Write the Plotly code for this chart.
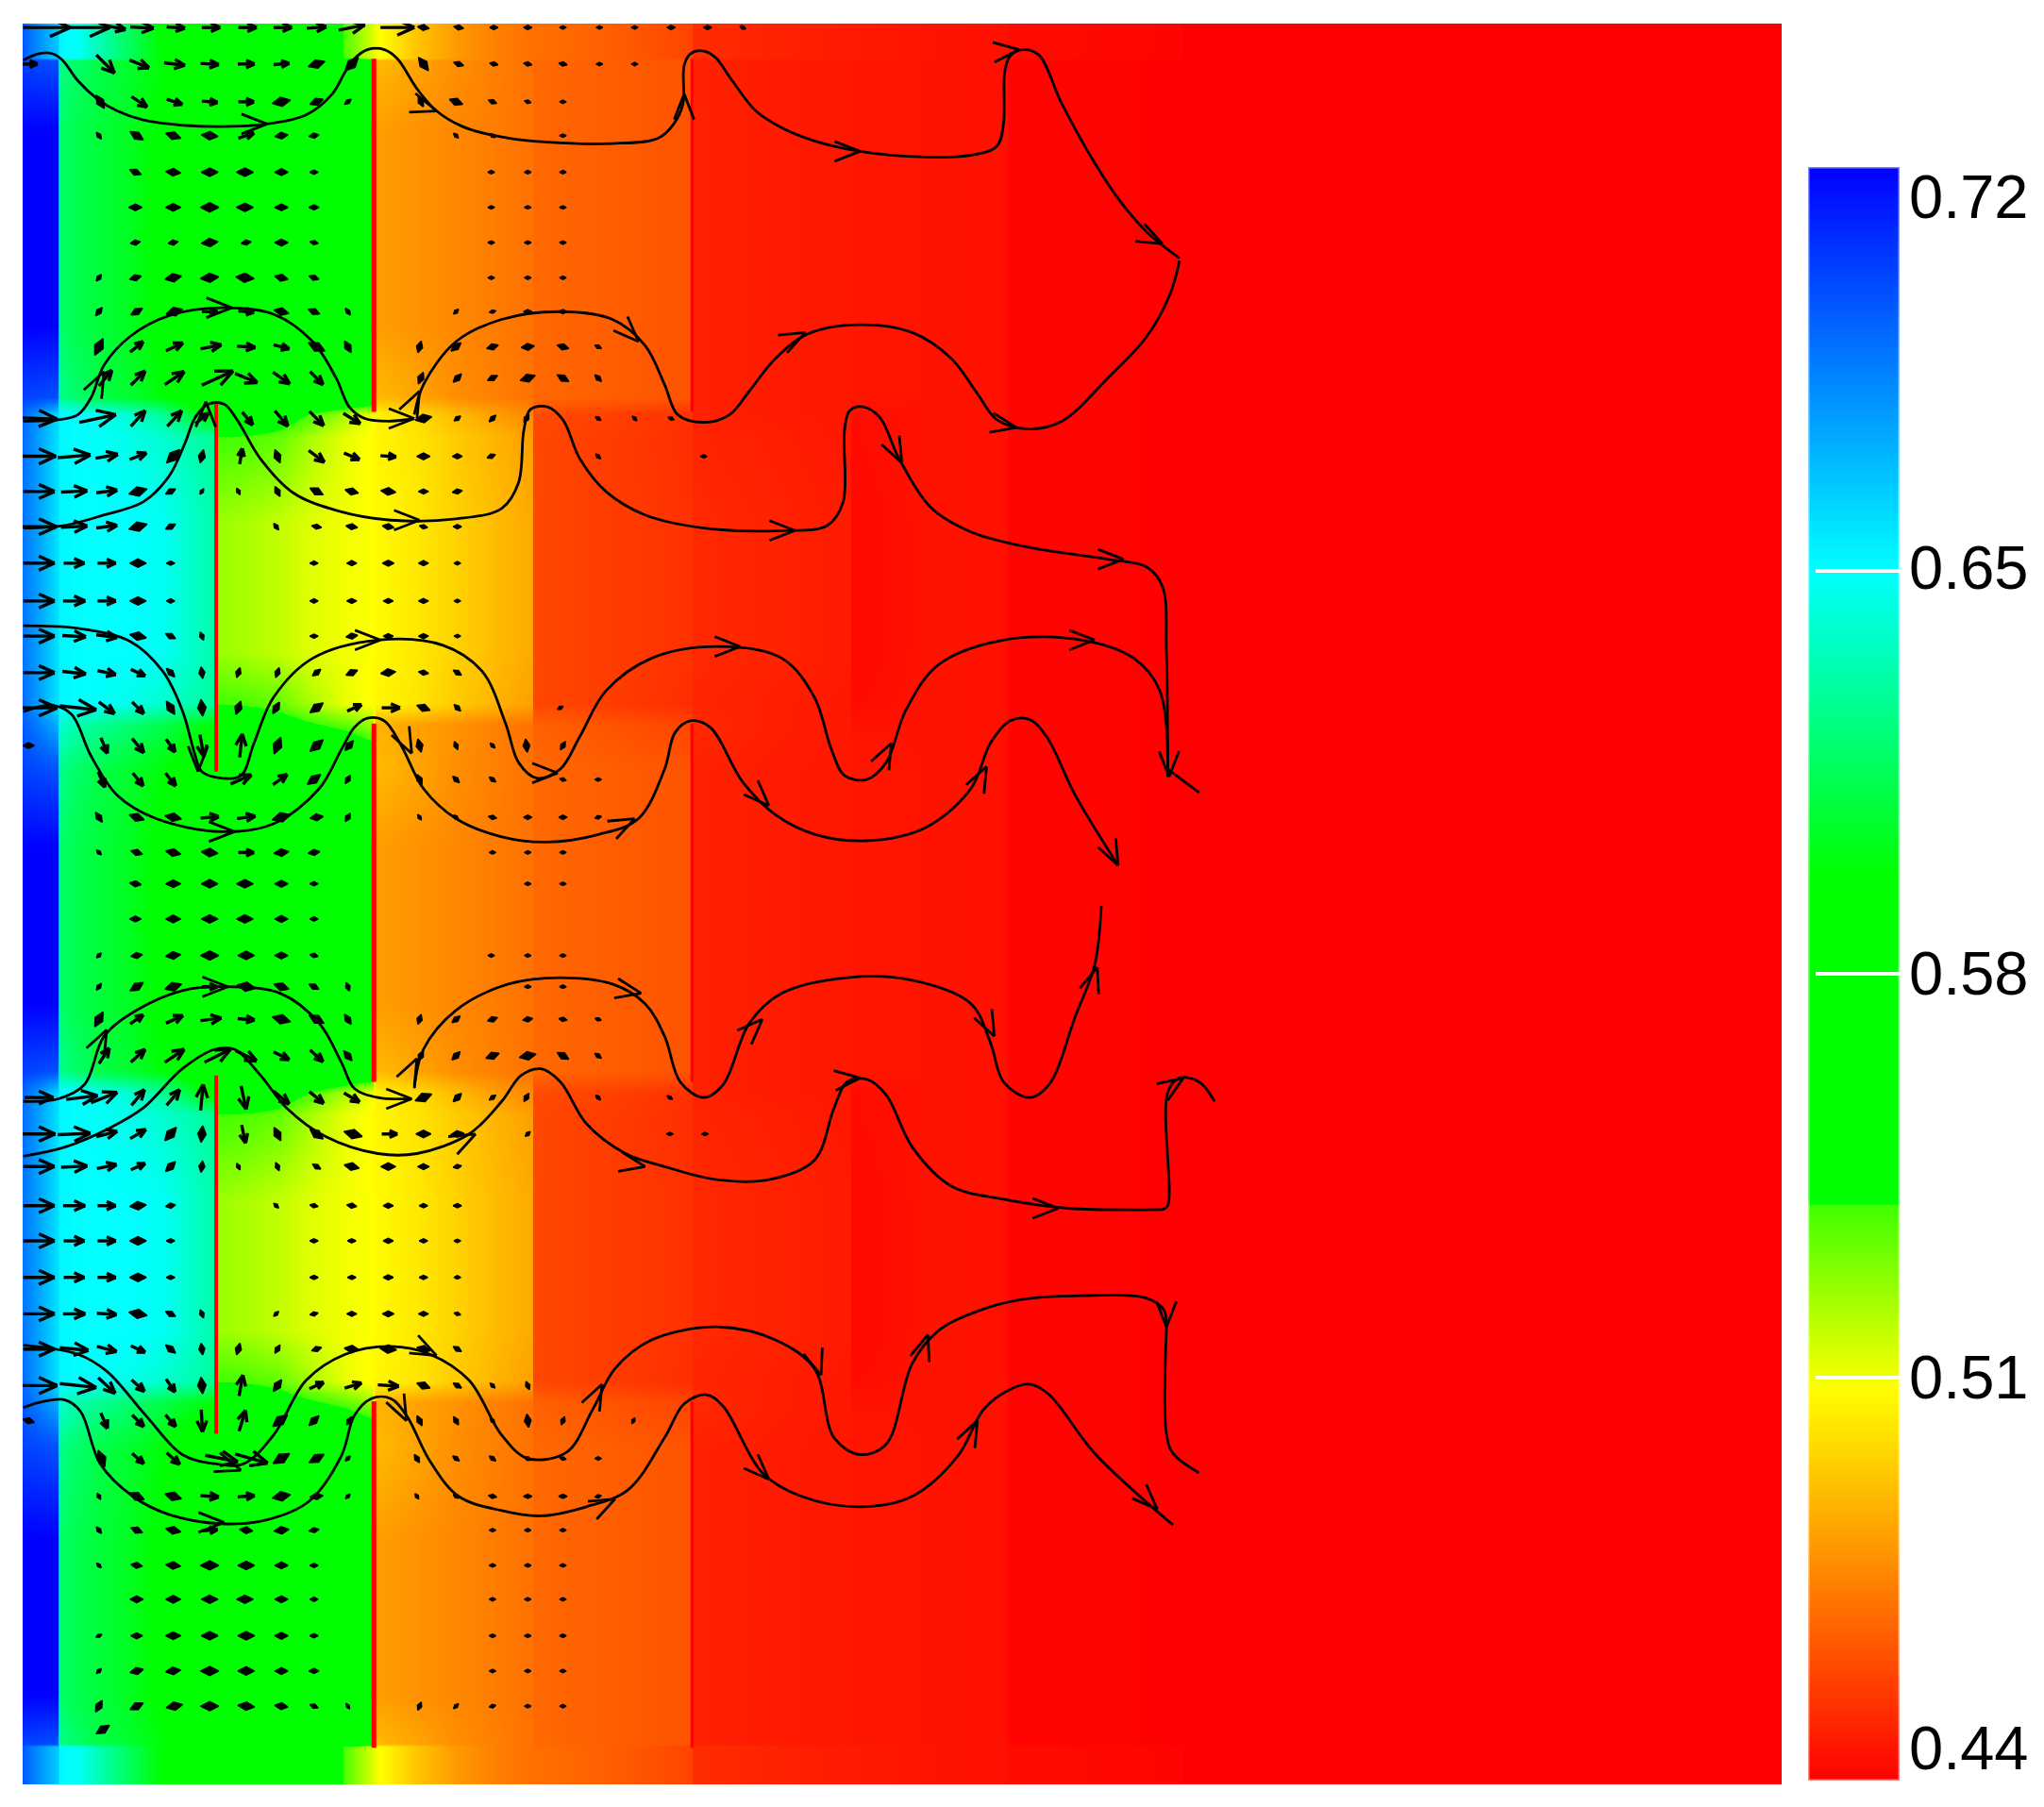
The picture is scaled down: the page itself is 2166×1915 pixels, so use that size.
#! /usr/bin/env python3

import math
import plotly.graph_objects as go

W = 2166
H = 1915
# the page body keeps its default margin, all pixel positions below are for the whole window
BODY = 8
FIG_W = W - 2*BODY
FIG_H = H - 2*BODY

# colorbar range and the colours
ZMIN = 0.44
ZMAX = 0.72
COLOR_STOPS = [(0.44, 'rgb(255,0,0)'), (0.508, 'rgb(255,255,0)'), (0.5399, 'rgb(64,255,0)'),
               (0.54, 'rgb(0,255,0)'), (0.5965, 'rgb(0,255,0)'), (0.65, 'rgb(0,255,255)'),
               (0.72, 'rgb(0,0,255)')]
BAR_LABELS = ['0.72', '0.65', '0.58', '0.51', '0.44']
BAR_LABEL_PX = [208, 601, 1031, 1459, 1852]
BAR_TICKS = [0.65, 0.58, 0.51]

# field values, one profile per kind of band across these columns
X_COLS = [17.5, 30, 44.5, 45.5, 60, 75, 100,
          125, 145, 165.5, 167, 190, 215, 240,
          265, 286, 288, 320, 350, 380, 408.5,
          409.5, 470, 530.5, 531.5, 600, 652.5, 653.5,
          720, 772.5, 773.5, 850, 907.5, 908.5, 1367]
TAIL = [.445, .444, .441, .441, .440, .440, .440]
P_TOP = [.695, .680, .665, .652, .648, .635, .615,
         .595, .580, .580, .580, .580, .580, .580,
         .537, .514, .510, .492, .481, .474, .470,
         .470, .465, .458, .452, .449, .447, .447,
         .445, .444, .443, .442, .441, .440, .440]
P_A = [.720, .720, .720, .618, .612, .609, .603,
       .594, .585, .580, .580, .580, .580, .580,
       .580, .580, .482, .479, .476, .473, .470,
       .468, .465, .462, .449, .447, .446, .446] + TAIL
P_A_EDGE = [.702, .700, .698, .625, .618, .612, .606,
            .598, .588, .582, .580, .580, .580, .580,
            .575, .565, .490, .484, .478, .474, .470,
            .468, .465, .462, .449, .447, .446, .446] + TAIL
P_GAP = [.692, .678, .660, .652, .650, .648, .640,
         .628, .610, .590, .588, .570, .552, .538,
         .522, .510, .505, .498, .490, .482, .476,
         .460, .457, .453, .449, .447, .446, .443] + TAIL
P_B_EDGE = [.690, .676, .658, .652, .650, .649, .645,
            .640, .634, .628, .540, .538, .534, .522,
            .512, .507, .506, .501, .494, .488, .482,
            .459, .456, .452, .450, .448, .446, .443] + TAIL
P_B = [.688, .675, .658, .652, .650, .650, .650,
       .648, .640, .632, .525, .522, .518, .513,
       .510, .508, .507, .502, .496, .490, .485,
       .459, .456, .453, .451, .449, .447, .442] + TAIL
P_MIX = [.695, .685, .672, .640, .632, .628, .620,
         .612, .604, .598, .570, .560, .550, .542,
         .535, .525, .488, .483, .479, .474, .470,
         .466, .462, .458, .451, .448, .446, .445] + TAIL

ROW_Y = [18, 44, 46, 100, 250, 305, 318, 335, 400, 500, 540, 556, 590, 650, 770, 822,
         838, 855, 920, 1020, 1060, 1076, 1110, 1180, 1300, 1338, 1340, 1369]
ROW_Z = [P_TOP, P_TOP, P_A_EDGE, P_A, P_A, P_A_EDGE, P_GAP, P_B_EDGE, P_B, P_B, P_B_EDGE, P_MIX,
         P_A_EDGE, P_A, P_A, P_A_EDGE, P_GAP, P_B_EDGE, P_B, P_B, P_B_EDGE, P_MIX,
         P_A_EDGE, P_A, P_A, P_A_EDGE, P_TOP, P_TOP]

# baffles
BAFFLE_X = [287, 531, 166, 287, 531, 166, 287, 531]
BAFFLE_Y0 = [45, 45, 310, 555, 555, 825, 1075, 1075]
BAFFLE_Y1 = [316, 316, 592, 830, 830, 1100, 1341, 1341]
BAFFLE_W = [5, 3, 4, 5, 3, 4, 5, 3]

# velocity arrows: (y, [(x, u, v), ...]), v is positive going down the picture
ARROW_ROWS = [
  (21, [(36,36,0),(69,31,0),(89,15,3),(109,18,1),(135,14,1),(162,14,0),(190,14,0),(217,14,0),
        (243,15,-1),(270,20,-4),(305,26,0),(325,7,1),(352,6,1),(379,5,0),(405,5,0),(432,4,0),
        (460,4,0),(487,4,0),(515,5,0),(543,5,0),(570,2,1)]),
  (49, [(23,12,0),(81,14,14),(107,15,6),(134,16,2),(161,14,1),(189,13,0),(216,12,-1),(243,10,-3),
        (270,8,-8),(325,6,8),(352,6,2),(379,5,1),(405,5,1),(432,5,1),(460,4,0),(487,3,0)]),
  (78, [(77,5,8),(107,12,8),(134,12,4),(161,12,1),(189,12,0),(216,11,-2),(243,8,-3),(267,4,-3),
        (323,3,6),(350,8,3),(378,5,2),(405,4,1),(432,4,0)]),
  (104, [(76,3,4),(105,8,5),(133,9,3),(161,10,1),(189,12,-4),(216,8,-1),(241,6,-1),
         (350,3,3),(378,3,2),(432,3,0)]),
  (132, [(104,7,3),(133,9,1),(161,10,0),(188,10,0),(216,8,0),(241,5,0),(377,3,0),(405,3,0),(432,3,0)]),
  (159, [(104,8,0),(133,9,0),(161,11,0),(188,10,0),(216,8,0),(241,6,0),(377,3,0),(405,3,0),(432,3,0)]),
  (186, [(104,6,-1),(133,6,-1),(161,10,-1),(189,6,-1),(216,8,0),(241,5,1),(377,3,0),(405,3,0),(432,3,0)]),
  (213, [(76,3,-4),(104,7,-2),(133,10,-2),(161,11,-1),(188,11,1),(216,8,2),(241,6,2),
         (377,3,0),(405,3,0),(432,3,0)]),
  (239, [(76,4,-5),(105,7,-4),(134,10,-3),(161,12,0),(189,12,1),(216,9,2),(241,7,3),(267,3,4),
         (350,3,-3),(378,4,-1),(405,5,0),(432,5,0)]),
  (266, [(76,5,-10),(105,10,-8),(134,13,-6),(162,16,-3),(189,14,1),(216,12,3),(243,10,5),(267,4,7),
         (322,2,-7),(350,6,-5),(378,7,-2),(405,8,-1),(432,7,2),(459,4,2)]),
  (290, [(81,10,-12),(106,11,-11),(134,15,-10),(167,24,-11),(189,17,7),(216,13,9),(243,10,10),
         (323,3,-7),(351,5,-5),(378,6,-3),(405,9,-3),(432,7,4),(459,4,4)]),
  (321, [(30,28,1),(75,28,-6),(106,11,-12),(134,11,-12),(155,10,-8),(190,8,10),(216,10,12),(243,11,11),
         (270,13,8),(325,10,-2),(351,4,-3),(378,4,-4),(404,3,-5),(459,3,2),(487,2,2),(515,2,1)]),
  (350, [(30,26,0),(57,25,-2),(82,17,-3),(106,13,-5),(133,8,-8),(155,2,-8),(185,2,-12),(213,3,8),
         (243,12,9),(270,12,5),(298,12,1),(325,8,0),(351,6,0),(377,5,-2),(459,3,3),(540,2,0)]),
  (377, [(30,24,0),(57,20,-1),(82,16,-2),(106,11,-3),(131,6,-3),(155,2,-3),(183,2,4),(213,3,6),
         (243,8,4),(270,8,2),(298,9,1),(325,6,0),(351,6,-1)]),
  (404, [(30,27,0),(57,20,-1),(82,16,-2),(106,11,-3),(131,6,-3),(212,3,4),(243,6,1),(270,7,1),
         (298,7,1),(325,5,1),(351,5,0)]),
  (432, [(30,24,0),(57,16,0),(82,14,0),(106,10,0),(131,5,0),(241,5,0),(270,6,0),(298,7,0),(325,6,0),(351,4,0)]),
  (461, [(30,24,0),(57,17,0),(82,14,0),(106,10,0),(131,5,0),(241,5,0),(270,6,0),(298,6,0),(325,6,0),(351,4,0)]),
  (488, [(30,24,0),(57,18,1),(82,16,2),(106,10,2),(131,6,3),(155,2,5),(241,5,0),(270,7,-1),(298,6,0),
         (325,6,0),(351,4,0)]),
  (516, [(30,24,0),(57,18,2),(82,14,3),(106,11,5),(131,5,5),(155,1,7),(183,2,-6),(213,2,-6),(243,5,-4),
         (270,7,-3),(298,9,-1),(325,6,1),(351,5,3)]),
  (543, [(30,28,0),(60,28,3),(82,12,9),(106,9,9),(131,5,8),(155,1,10),(183,3,-8),(212,4,-7),(243,8,-6),
         (272,11,-5),(300,14,0),(325,8,3),(351,4,4),(430,2,-1)]),
  (572, [(22,7,0),(80,5,12),(106,9,11),(131,7,10),(155,3,17),(185,2,-18),(213,4,-10),(243,8,-7),(268,5,-6),
         (322,2,8),(350,2,5),(378,3,3),(404,1,8),(432,3,-5)]),
  (598, [(78,5,12),(106,8,10),(131,8,10),(185,16,-7),(215,11,-8),(241,8,-6),(267,3,-5),(322,3,6),
         (350,4,4),(378,4,3),(432,4,1),(459,3,0)]),
  (627, [(76,4,6),(105,9,3),(133,10,2),(161,14,-1),(189,14,-2),(216,11,-3),(243,8,-1),(267,3,-5),
         (322,2,3),(350,2,2),(378,5,1),(405,5,0),(432,5,0),(459,4,-1)]),
  (654, [(76,3,3),(105,7,2),(133,9,2),(161,10,1),(189,12,0),(216,9,-1),(241,7,-1),(378,4,0),(405,3,0),(432,3,0)]),
  (678, [(104,7,1),(133,9,0),(161,10,0),(188,10,0),(216,8,0),(241,5,0),(405,3,0),(432,3,0)]),
  (705, [(104,7,0),(133,9,0),(161,10,0),(188,10,0),(216,8,0),(241,5,0)]),
  (733, [(76,2,-2),(105,7,-1),(133,9,-1),(161,11,0),(189,10,0),(216,8,0),(241,5,1),(377,3,0),(405,3,0),(432,3,0)]),
  (757, [(76,3,-4),(105,8,-5),(133,10,-3),(161,12,0),(189,11,2),(216,9,3),(241,6,3),(267,2,5),(405,3,0),(432,3,0)]),
  (782, [(76,5,-9),(105,10,-7),(134,13,-6),(162,16,-2),(189,13,1),(216,11,3),(243,9,5),(267,4,6),
         (322,2,-6),(350,5,-4),(378,6,-2),(405,6,-1),(432,5,1),(459,3,1)]),
  (810, [(80,8,-12),(106,11,-10),(134,15,-10),(167,20,-10),(189,16,8),(216,12,6),(243,10,9),(267,5,6),
         (323,3,-6),(350,5,-5),(378,8,-3),(405,10,-2),(432,7,4),(459,4,3)]),
  (842, [(30,22,0),(63,24,-3),(80,20,-8),(106,10,-12),(133,10,-12),(155,2,-20),(187,4,18),(216,12,10),
         (243,11,9),(270,12,7),(325,10,-4),(351,5,-5),(378,4,-3),(404,3,-5),(459,3,3),(514,3,2)]),
  (870, [(30,25,0),(57,25,-1),(82,16,-4),(106,12,-7),(131,7,-8),(155,1,-10),(187,3,14),(213,4,8),(243,8,6),
         (271,11,3),(299,12,0),(325,9,0),(351,8,-1),(405,3,-3),(514,2,0),(541,2,0)]),
  (895, [(30,24,0),(57,20,-1),(82,15,-3),(106,11,-5),(131,6,-6),(155,1,-7),(183,2,4),(213,2,5),(243,5,3),
         (270,9,2),(298,9,0),(325,7,0),(351,5,-1)]),
  (925, [(30,24,0),(57,17,0),(82,14,0),(106,10,-1),(131,6,-1),(212,3,3),(241,5,1),(270,6,1),(298,6,0),(325,5,0),(351,5,0)]),
  (952, [(30,24,0),(57,16,0),(82,14,0),(106,10,0),(131,5,0),(241,5,0),(270,5,0),(298,6,0),(325,5,0),(351,4,0)]),
  (980, [(30,24,0),(57,16,0),(82,14,0),(106,10,0),(131,5,0),(241,5,0),(270,5,0),(298,6,0),(325,5,0),(351,4,0)]),
  (1008, [(30,24,0),(57,17,0),(82,15,1),(106,11,2),(131,6,3),(155,2,5),(212,3,-3),(241,5,-1),(270,6,0),
          (298,7,0),(325,6,0),(351,4,1)]),
  (1035, [(30,24,0),(57,22,2),(82,15,4),(106,11,5),(131,6,5),(155,1,7),(183,2,-7),(213,3,-5),(243,6,-2),
          (270,9,1),(298,10,1),(325,8,2),(351,5,3)]),
  (1063, [(30,28,0),(60,28,3),(82,13,12),(106,10,9),(131,7,10),(155,1,10),(185,3,-16),(213,5,-7),(243,11,-5),
          (271,13,-4),(298,16,1),(325,8,3),(351,5,3),(378,3,3),(405,2,5)]),
  (1090, [(22,7,2),(80,5,12),(106,9,9),(131,8,9),(155,1,17),(186,5,-16),(215,9,-7),(241,6,-6),(268,3,-5),
          (322,3,6),(350,3,5),(378,3,3),(405,1,8),(432,2,-5),(486,1,-2)]),
  (1119, [(78,4,10),(106,9,8),(133,10,9),(170,25,5),(193,25,7),(216,10,-6),(243,9,-5),(267,3,-3),
          (320,3,5),(350,4,3),(378,4,3),(405,4,2),(432,4,1),(459,3,0)]),
  (1148, [(76,2,4),(105,9,4),(133,10,3),(161,14,1),(189,13,-1),(216,11,-2),(243,8,-1),(267,2,-2),
          (320,2,3),(350,3,2),(378,5,1),(405,5,0),(432,5,0),(459,4,-1)]),
  (1174, [(76,3,4),(105,7,3),(133,9,2),(161,12,-1),(189,8,1),(216,9,-1),(241,6,-1),(378,4,0),(405,3,0),(432,3,0)]),
  (1201, [(76,2,2),(105,7,1),(133,9,1),(161,11,0),(189,10,0),(216,8,0),(241,5,0),(378,3,0),(405,3,0),(432,3,0)]),
  (1227, [(105,8,0),(133,9,0),(161,10,0),(188,10,0),(216,8,0),(241,5,0),(378,3,0),(405,3,0),(432,3,0)]),
  (1255, [(76,2,-1),(105,7,0),(133,9,0),(161,10,0),(189,10,0),(216,8,0),(241,5,0),(378,3,0),(405,3,0),(432,3,0)]),
  (1282, [(76,3,-3),(105,8,-2),(133,9,-1),(161,11,0),(189,10,0),(216,8,0),(241,6,0),(378,3,0),(405,3,0),(432,3,0)]),
  (1309, [(76,4,-7),(105,8,-4),(134,10,-2),(161,11,0),(189,10,1),(216,8,1),(241,5,2),(267,2,3),
          (322,2,-5),(350,3,-3),(378,4,-1),(405,3,0),(432,3,0)]),
  (1327, [(79,8,-5)]),
]

# streamlines
STREAMS = [
  [(18,46),(30,41),(40,41),(48,46),(60,62),(75,76),(90,85),(110,92),(140,96),(170,97),(205,95),(235,88),
   (255,72),(265,55),(272,45),(282,38),(295,38),(305,45),(320,68),(335,85),(355,97),(385,105),(420,109),
   (470,110),(505,106),(517,95),(524,80),(525,50),(530,41),(540,39),(549,44),(562,62),(580,85),(600,98),
   (625,108),(660,116),(700,120),(745,119),(765,112),(770,95),(771,55),(775,43),(785,38),(797,42),(815,80),
   (840,125),(860,155),(880,178),(905,198)],
  [(18,323),(45,322),(60,318),(70,305),(80,280),(100,258),(130,242),(170,236),(210,241),(240,262),(258,290),
   (268,312),(280,321),(300,323),(318,321)],
  [(318,318),(325,295),(350,262),(385,245),(430,239),(470,245),(495,265),(510,295),(520,318),(540,324),
   (560,318),(575,300),(595,275),(620,256),(660,249),(700,255),(730,275),(750,302),(765,322),(790,329),
   (815,323),(850,290),(880,258),(898,225),(905,200)],
  [(18,405),(50,403),(80,395),(110,385),(130,365),(142,340),(150,320),(160,310),(172,310),(182,322),(200,352),
   (225,378),(260,392),(300,399),(350,398),(385,390),(398,370),(402,330),(407,314),(420,312),(432,322),
   (445,352),(465,377),(495,395),(540,405),(600,407),(635,403),(647,385),(648,330),(652,315),(662,312),
   (675,320),(690,352),(715,390),(745,408),(790,420),(850,429),(880,435),(892,450),(895,500),(896,590)],
  [(896,590),(920,608)],
  [(18,480),(60,482),(100,492),(125,515),(140,545),(150,580),(155,592),(170,597),(185,595),(195,570),(210,535),
   (240,505),(290,491),(340,495),(370,515),(388,555),(398,585),(412,597),(430,590),(445,565),(465,530),
   (500,505),(550,496),(600,505),(625,535),(638,575),(648,595),(665,598),(680,585),(695,545),(720,510),
   (770,491),(830,491),(870,505),(890,530),(896,596)],
  [(18,546),(40,541),(55,548),(70,580),(90,610),(120,628),(170,638),(210,632),(245,605),(262,575),(272,558),
   (282,551),(295,553),(308,572),(325,605),(350,628),(385,642),(420,646),(460,640),(490,628),(510,590),
   (518,562),(530,553),(545,558),(570,600),(595,625),(625,640),(665,645),(710,635),(745,605),(760,570),
   (775,553),(790,552),(803,565),(825,610),(858,664)],
  [(18,845),(45,843),(65,832),(80,795),(105,775),(140,760),(170,757),(215,762),(245,785),(262,815),(272,835),
   (290,842),(316,843)],
  [(318,835),(325,805),(350,775),(390,755),(430,750),(470,755),(495,770),(510,795),(522,830),(540,842),
   (555,832),(575,785),(600,762),(650,750),(700,752),(745,770),(760,800),(770,830),(790,842),(805,832),
   (825,780),(840,740),(845,695)],
  [(18,887),(50,880),(85,865),(110,850),(140,820),(165,805),(180,805),(200,825),(220,850),(250,872),(290,885),
   (320,885),(360,870),(385,845),(400,825),(415,820),(430,830),(450,862),(480,885),(510,895),(550,905),
   (590,905),(625,890),(640,850),(650,830),(665,828),(680,840),(700,880),(730,910),(770,920),(820,927),
   (892,928)],
  [(892,928),(896,925),(896,838),(905,827),(920,830),(932,845)],
  [(18,1032),(60,1039),(82,1052),(112,1086),(140,1116),(165,1123),(187,1123),(210,1101),(235,1059),(265,1039),
   (300,1033),(330,1039),(360,1059),(385,1101),(405,1119),(435,1114),(455,1081),(472,1050),(500,1028),
   (550,1018),(595,1028),(625,1050),(640,1103),(660,1116),(680,1108),(700,1046),(720,1021),(750,1006),
   (784,997),(830,994),(880,996),(893,1005),(895,1020)],
  [(895,1020),(895,1100),(900,1115),(920,1130)],
  [(18,1080),(30,1076),(50,1074),(62,1083),(77,1123),(102,1148),(130,1162),(170,1169),(205,1166),(237,1152),
   (262,1117),(272,1086),(285,1073),(300,1073),(312,1086),(330,1121),(352,1148),(385,1159),(415,1163),
   (450,1156),(482,1143),(510,1103),(525,1077),(542,1070),(555,1079),(585,1130),(615,1148),(660,1156),
   (700,1148),(735,1117),(755,1081),(775,1066),(790,1062),(805,1070),(840,1115),(900,1170)],
]

# arrowheads on the streamlines: tip x, tip y and direction
HEAD_X = [205, 335, 525, 660, 782, 892, 80, 178, 318, 322, 490, 618, 780, 158, 322, 610, 692, 862,
          152, 292, 568, 684, 840, 897, 180, 316, 428, 487, 590, 757, 858, 82, 175, 316, 320, 492,
          585, 763, 842, 365, 660, 495, 812, 908, 185, 335, 630, 462, 712, 895, 172, 312, 472, 590, 750, 888]
HEAD_Y = [95, 85, 72, 116, 38, 187, 285, 236, 321, 300, 262, 255, 328, 308, 399, 407, 355, 429,
          592, 491, 496, 570, 491, 596, 638, 578, 593, 628, 618, 588, 664, 790, 757, 843, 812, 762,
          782, 795, 742, 870, 827, 895, 927, 827, 1128, 1040, 1055, 1062, 1024, 1018, 1168, 1090, 1150, 1135, 1090, 1158]
HEAD_U = [1, 3, 0, 1, 1, 2, 1, 1, 1, 1, 1, 2, 1, 0, 1, 1, 1, 1,
          0, 1, 1, 1, 1, 0, 1, 1, 1, 2, 1, 1, 1, 1, 1, 1, 1, 1,
          1, 1, 1, 2, 1, 1, 1, 3, 3, 2, 1, 1, 1, 0, 1, 1, 2, 1, 1, 1]
HEAD_V = [0, 1, -1, 0, -0.1, 1, -2, 0, 0, -2, 1, -1, 0.2, -1, 0, 0, 2, 0,
          1, 0, 0, -2, 0, 1, 0, 2, 0, -1, 1, -2, 2, -2, 0, 0, -2, 0.2,
          -1, 2, -3, -1, -0.1, 0.2, 0, -2, 1, 1, 3, -2, -3, 1, 0, 2, -1, 1, -2, 1]


def barbs(tipx, tipy, dirx, diry, size, spread):
  # the two strokes of an open arrowhead, in the picture's units
  a = math.atan2(diry, dirx)
  xs, ys = [], []
  for s in (-spread, spread):
    xs += [tipx - size*math.cos(a+s), tipx, None]
    ys += [tipy - size*math.sin(a+s), tipy, None]
  return xs, ys

def px_x(p):
  return (p-BODY)/FIG_W

def px_y(p):
  return 1-(p-BODY)/FIG_H


fig = go.Figure()

stops = [[(v-ZMIN)/(ZMAX-ZMIN), c] for v, c in COLOR_STOPS]
fig.add_trace(go.Heatmap(x=X_COLS, y=ROW_Y, z=ROW_Z, zmin=ZMIN, zmax=ZMAX, colorscale=stops,
                         zsmooth='best', hoverinfo='skip',
                         colorbar={'xref':'paper', 'yref':'paper', 'x':px_x(1916), 'xanchor':'left',
                                   'y':px_y(177), 'yanchor':'top', 'lenmode':'pixels', 'len':1710,
                                   'thicknessmode':'pixels', 'thickness':97, 'xpad':0, 'ypad':0,
                                   'outlinecolor':'rgba(255,255,255,0.5)', 'outlinewidth':3,
                                   'tickmode':'array', 'tickvals':BAR_TICKS, 'ticks':'inside',
                                   'ticklen':90, 'tickwidth':4, 'tickcolor':'white',
                                   'showticklabels':False}))

for bx, y0, y1, bw in zip(BAFFLE_X, BAFFLE_Y0, BAFFLE_Y1, BAFFLE_W):
  fig.add_trace(go.Scatter(x=[bx, bx], y=[y0, y1], mode='lines', line={'color':'#ff0000', 'width':bw},
                           hoverinfo='skip'))

# long vectors get an open head, short ones are only a blob
qx, qy, bx, by, bsize, bangle = [], [], [], [], [], []
for ay, row in ARROW_ROWS:
  for ax, u, v in row:
    length = math.hypot(u, v)
    if length >= 12:
      tipx, tipy = ax+u/2, ay+v/2
      qx += [ax-u/2, tipx, None]
      qy += [ay-v/2, tipy, None]
      hx, hy = barbs(tipx, tipy, u, v, min(0.55*length, 17), 0.42)
      qx += hx
      qy += hy
    else:
      bx.append(ax)
      by.append(ay)
      bsize.append(max(5, length*1.25))
      bangle.append(math.degrees(math.atan2(u, -v)))

fig.add_trace(go.Scatter(x=qx, y=qy, mode='lines', line={'color':'black', 'width':3.4}, hoverinfo='skip'))
fig.add_trace(go.Scatter(x=bx, y=by, mode='markers', hoverinfo='skip',
                         marker={'symbol':'diamond-tall', 'color':'black', 'size':bsize, 'angle':bangle,
                                 'opacity':1, 'line':{'width':1.5, 'color':'black'}}))

for s in STREAMS:
  fig.add_trace(go.Scatter(x=[p[0] for p in s], y=[p[1] for p in s], mode='lines', hoverinfo='skip',
                           line={'color':'black', 'width':2.8, 'shape':'spline', 'smoothing':1.0}))

hx, hy = [], []
for tx, ty, u, v in zip(HEAD_X, HEAD_Y, HEAD_U, HEAD_V):
  xs, ys = barbs(tx, ty, u, v, 21, 0.37)
  hx += xs
  hy += ys
fig.add_trace(go.Scatter(x=hx, y=hy, mode='lines', line={'color':'black', 'width':2.8}, hoverinfo='skip'))

for text, py in zip(BAR_LABELS, BAR_LABEL_PX):
  fig.add_annotation(text=text, xref='paper', yref='paper', x=px_x(2021), y=px_y(py), xanchor='left',
                     yanchor='middle', showarrow=False,
                     font={'family':'Liberation Sans, Arial, sans-serif', 'size':65, 'color':'black'})

fig.update_xaxes(visible=False, range=[17.5, 1367], domain=[px_x(24), px_x(1888)])
fig.update_yaxes(visible=False, range=[1369, 18], domain=[px_y(1891), px_y(25)])
fig.update_layout(width=FIG_W, height=FIG_H, margin={'l':0, 'r':0, 't':0, 'b':0}, showlegend=False,
                  plot_bgcolor='white', paper_bgcolor='white')

fig.write_html("out.html")
